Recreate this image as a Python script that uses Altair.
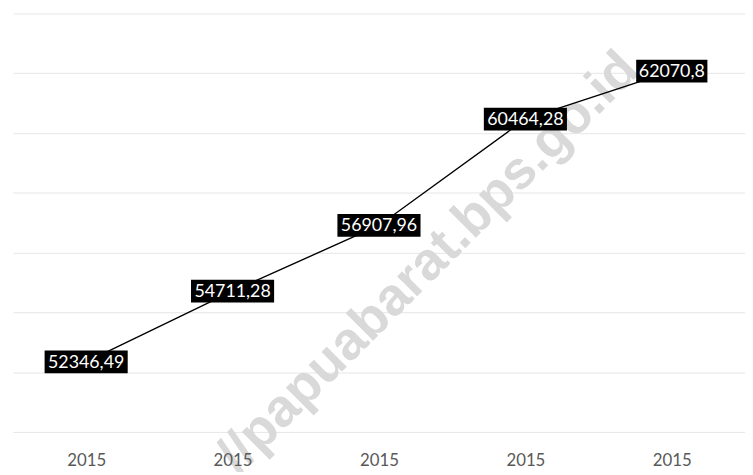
import altair as alt
import pandas as pd
import json

# ---- data ----
years = ["2015", "2015", "2015", "2015", "2015"]
values = [52346.49, 54711.28, 56907.96, 60464.28, 62070.8]
y_ticks = [50000, 52000, 54000, 56000, 58000, 60000, 62000, 64000]
watermark = "//papuabarat.bps.go.id"

df = pd.DataFrame({"idx": list(range(len(values))), "year": years, "value": values})

label_expr = json.dumps(years) + "[datum.value]"

x_enc = alt.X(
    "idx:O",
    scale=alt.Scale(paddingInner=0, paddingOuter=0),
    axis=alt.Axis(
        title=None, labelExpr=label_expr, labelAngle=0, ticks=False, tickSize=0,
        domain=False, labelFont="Lato", labelFontSize=17, labelColor="#595959",
        labelPadding=21, grid=False, zindex=1,
    ),
)
y_enc = alt.Y(
    "value:Q",
    scale=alt.Scale(domain=[50000, 64000], nice=False, zero=False),
    axis=alt.Axis(
        title=None, values=y_ticks, labels=False, ticks=False, domain=False,
        grid=True, gridColor="#e6e6e6", gridWidth=1, zindex=0,
    ),
)

base = alt.Chart(df).transform_calculate(
    label="replace(toString(datum.value), '.', ',')"
).transform_calculate(
    kind="length(datum.label) > 7 ? 'long' : 'short'"
)

wm = alt.Chart(pd.DataFrame({"t": [watermark]})).mark_text(
    font="Liberation Sans", fontWeight="bold", fontSize=54, color="#d9d9d9",
    angle=315, align="center", baseline="middle",
).encode(text="t:N", x=alt.value(420), y=alt.value(252))

line = base.mark_line(color="#000000", strokeWidth=1.4).encode(x=x_enc, y=y_enc)

boxes = base.mark_point(filled=True, color="#000000", opacity=1, strokeWidth=0, size=84 * 84).encode(
    x=x_enc, y=y_enc,
    shape=alt.Shape(
        "kind:N",
        scale=alt.Scale(
            domain=["long", "short"],
            range=["M-1,-0.274H1V0.274H-1Z", "M-0.857,-0.274H0.857V0.274H-0.857Z"],
        ),
        legend=None,
    ),
)

texts = base.mark_text(
    font="Lato", fontSize=18, color="#ffffff", align="center", baseline="middle", dy=1,
).encode(x=x_enc, y=y_enc, text="label:N")

chart = alt.layer(wm, line, boxes, texts).properties(
    width=740, height=423,
    padding={"left": 5, "top": 3, "right": 0, "bottom": 38},
    autosize=alt.AutoSizeParams(type="none"),
    background="#ffffff",
).configure_view(stroke=None)

chart.save("out.html", embed_options={"renderer": "svg", "actions": False})
